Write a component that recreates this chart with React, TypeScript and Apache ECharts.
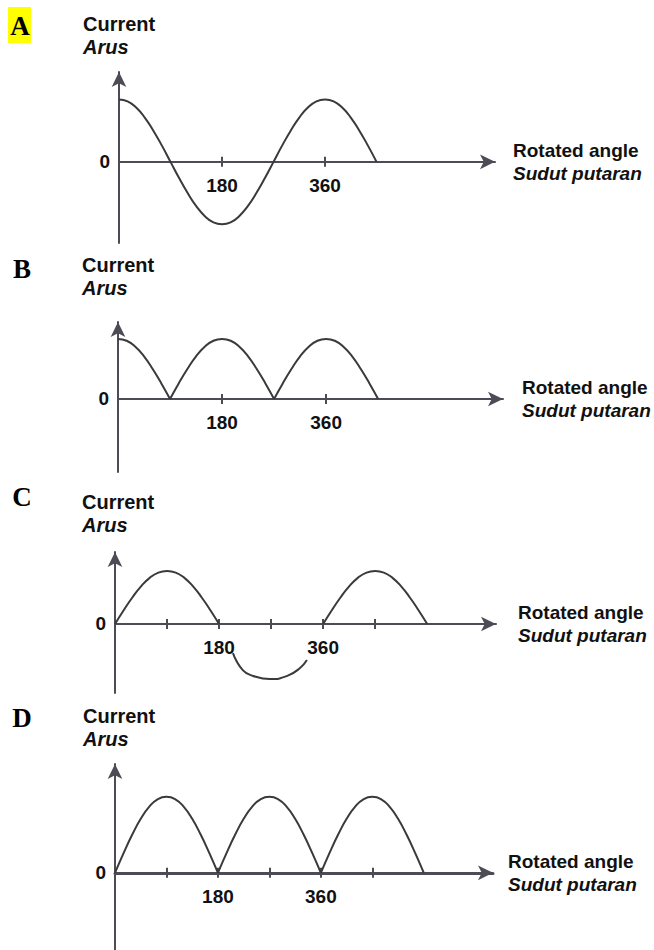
import React, { useEffect, useRef } from "react";
import * as echarts from "echarts";

// ---- texts ----
const panelLetters = ["A", "B", "C", "D"];
const yTitleLines = ["Current", "Arus"];
const xTitleLines = ["Rotated angle", "Sudut putaran"];

// ---- tick values ----
const labelledAngles = [180, 360];
const ticksAB = [180, 360];
const ticksCD = [90, 180, 270, 360, 450];
const zeroLabel = [0];

// ---- A: current vs rotated angle ----
const angleA = [0, 15, 30, 45, 60, 75, 90, 105, 120, 135, 150, 165, 180, 195, 210, 225, 240, 255, 270, 285, 300, 315, 330, 345, 360, 375, 390, 405, 420, 435, 450];
const currentA = [1, 0.97, 0.87, 0.71, 0.5, 0.26, 0, -0.26, -0.5, -0.71, -0.87, -0.97, -1, -0.97, -0.87, -0.71, -0.5, -0.26, 0, 0.26, 0.5, 0.71, 0.87, 0.97, 1, 0.97, 0.87, 0.71, 0.5, 0.26, 0];

// ---- B: three arches ----
const angleB1 = [0, 15, 30, 45, 60, 75, 90];
const currentB1 = [1, 0.97, 0.87, 0.71, 0.5, 0.26, 0];
const angleB2 = [90, 105, 120, 135, 150, 165, 180, 195, 210, 225, 240, 255, 270];
const currentB2 = [0, 0.26, 0.5, 0.71, 0.87, 0.97, 1, 0.97, 0.87, 0.71, 0.5, 0.26, 0];
const angleB3 = [270, 285, 300, 315, 330, 345, 360, 375, 390, 405, 420, 435, 450];
const currentB3 = [0, 0.26, 0.5, 0.71, 0.87, 0.97, 1, 0.97, 0.87, 0.71, 0.5, 0.26, 0];

// ---- C ----
const angleC1 = [0, 15, 30, 45, 60, 75, 90, 105, 120, 135, 150, 165, 180];
const currentC1 = [0, 0.26, 0.5, 0.71, 0.87, 0.97, 1, 0.97, 0.87, 0.71, 0.5, 0.26, 0];
const angleC2 = [204, 221, 239, 268, 298, 320, 332];
const currentC2 = [-0.55, -0.87, -0.98, -1.04, -0.98, -0.83, -0.68];
const angleC3 = [360, 375, 390, 405, 420, 435, 450, 465, 480, 495, 510, 525, 540];
const currentC3 = [0, 0.26, 0.5, 0.71, 0.87, 0.97, 1, 0.97, 0.87, 0.71, 0.5, 0.26, 0];

// ---- D: three arches ----
const angleD1 = [0, 15, 30, 45, 60, 75, 90, 105, 120, 135, 150, 165, 180];
const currentD1 = [0, 0.26, 0.5, 0.71, 0.87, 0.97, 1, 0.97, 0.87, 0.71, 0.5, 0.26, 0];
const angleD2 = [180, 195, 210, 225, 240, 255, 270, 285, 300, 315, 330, 345, 360];
const currentD2 = [0, 0.26, 0.5, 0.71, 0.87, 0.97, 1, 0.97, 0.87, 0.71, 0.5, 0.26, 0];
const angleD3 = [360, 375, 390, 405, 420, 435, 450, 465, 480, 495, 510, 525, 540];
const currentD3 = [0, 0.26, 0.5, 0.71, 0.87, 0.97, 1, 0.97, 0.87, 0.71, 0.5, 0.26, 0];

const pairs = (a: number[], v: number[]) => a.map((x, i) => [x, v[i]]);

const SANS = "'Liberation Sans', Arial, Helvetica, sans-serif";
const SERIF = "'Liberation Serif', 'Times New Roman', serif";
const AXIS = "#4d4b55";
const CURVE = "#3a3a3a";
const TEXT = "#111111";

const panels = [
  { left: 119, top: 72, width: 376, height: 171, xMax: 657, yMin: -1.3, yMax: 1.44, ticks: ticksAB, nameGap: 18, axisW: 2, letterY: 26, titleX: 83, titleY: 24 },
  { left: 118, top: 322, width: 385, height: 150, xMax: 666, yMin: -1.217, yMax: 1.283, ticks: ticksAB, nameGap: 19, axisW: 2, letterY: 269, titleX: 82, titleY: 265 },
  { left: 115, top: 552, width: 381, height: 141, xMax: 659, yMin: -1.302, yMax: 1.358, ticks: ticksCD, nameGap: 22, axisW: 2, letterY: 497, titleX: 82, titleY: 502 },
  { left: 115, top: 764, width: 378, height: 186, xMax: 661, yMin: -1.013, yMax: 1.43, ticks: ticksCD, nameGap: 15, axisW: 3, letterY: 718, titleX: 83, titleY: 716 },
];

const seriesPerPanel: number[][][][] = [
  [pairs(angleA, currentA)],
  [pairs(angleB1, currentB1), pairs(angleB2, currentB2), pairs(angleB3, currentB3)],
  [pairs(angleC1, currentC1), pairs(angleC2, currentC2), pairs(angleC3, currentC3)],
  [pairs(angleD1, currentD1), pairs(angleD2, currentD2), pairs(angleD3, currentD3)],
];

export default function App() {
  const ref = useRef<HTMLDivElement>(null);
  useEffect(() => {
    if (!ref.current) return;
    const chart = echarts.init(ref.current, null, { renderer: "svg" });

    const zeroOffset = (p: any) => -(p.height * (0 - p.yMin)) / (p.yMax - p.yMin);

    const grid = panels.map((p) => ({ left: p.left, top: p.top, width: p.width, height: p.height, containLabel: false }));
    const mainX = panels.map((p, i) => ({
      type: "value",
      gridIndex: i,
      position: "bottom",
      // lift the whole axis (line, ticks, labels, name) up to the zero level
      offset: zeroOffset(p),
      min: 0,
      max: p.xMax,
      axisLine: { show: true, onZero: false, symbol: ["none", "arrow"], symbolSize: [11, 15], lineStyle: { color: AXIS, width: p.axisW } },
      axisTick: { show: true, customValues: p.ticks, length: 5, inside: false, lineStyle: { color: AXIS, width: 2 } },
      axisLabel: { show: true, customValues: labelledAngles, fontSize: 19, fontWeight: "bold", color: TEXT, margin: 14, fontFamily: SANS },
      splitLine: { show: false },
      name: `{a|${xTitleLines[0]}}\n{b|${xTitleLines[1]}}`,
      nameLocation: "end",
      nameGap: p.nameGap,
      nameTextStyle: {
        align: "left",
        verticalAlign: "middle",
        rich: {
          a: { fontSize: 19, fontWeight: "bold", color: TEXT, fontFamily: SANS, lineHeight: 23 },
          b: { fontSize: 19, fontWeight: "bold", fontStyle: "italic", color: TEXT, fontFamily: SANS, lineHeight: 23 },
        },
      },
    }));
    // twin axes that draw the upper half of each tick so the marks cross the axis line
    const tickX = panels.map((p, i) => ({
      type: "value",
      gridIndex: i,
      position: "bottom",
      offset: zeroOffset(p),
      min: 0,
      max: p.xMax,
      axisLine: { show: false, onZero: false },
      axisTick: { show: true, customValues: p.ticks, length: 5, inside: true, lineStyle: { color: AXIS, width: 2 } },
      axisLabel: { show: false },
      splitLine: { show: false },
    }));
    const xAxis = [...mainX, ...tickX];

    const yAxis = panels.map((p, i) => ({
      type: "value",
      gridIndex: i,
      position: "left",
      min: p.yMin,
      max: p.yMax,
      axisLine: { show: true, onZero: false, symbol: ["none", "arrow"], symbolSize: [11, 15], lineStyle: { color: AXIS, width: 2 } },
      axisTick: { show: false },
      axisLabel: { show: true, customValues: zeroLabel, fontSize: 19, fontWeight: "bold", color: TEXT, margin: 9, fontFamily: SANS },
      splitLine: { show: false },
    }));

    const series: any[] = [];
    seriesPerPanel.forEach((list, i) => {
      list.forEach((data) => {
        series.push({
          type: "line",
          xAxisIndex: i,
          yAxisIndex: i,
          data,
          smooth: true,
          showSymbol: false,
          symbol: "none",
          lineStyle: { color: CURVE, width: 2 },
          silent: true,
        });
      });
    });

    const graphic: any[] = [
      { type: "rect", shape: { x: 8, y: 7, width: 23, height: 36 }, style: { fill: "#ffff00" } },
    ];
    panels.forEach((p, i) => {
      graphic.push({
        type: "text",
        x: 20 + (i === 0 ? 0 : 2),
        y: p.letterY,
        style: { text: panelLetters[i], fill: "#000", fontSize: 27, fontWeight: "bold", fontFamily: SERIF, align: "center", verticalAlign: "middle", textAlign: "center", textVerticalAlign: "middle" },
      });
      graphic.push({
        type: "text",
        x: p.titleX,
        y: p.titleY,
        style: { text: yTitleLines[0], fill: TEXT, fontSize: 20, fontWeight: "bold", fontFamily: SANS, align: "left", verticalAlign: "middle", textAlign: "left", textVerticalAlign: "middle" },
      });
      graphic.push({
        type: "text",
        x: p.titleX,
        y: p.titleY + 23,
        style: { text: yTitleLines[1], fill: TEXT, fontSize: 20, fontWeight: "bold", fontStyle: "italic", fontFamily: SANS, align: "left", verticalAlign: "middle", textAlign: "left", textVerticalAlign: "middle" },
      });
    });

    chart.setOption({
      animation: false,
      backgroundColor: "#ffffff",
      grid,
      xAxis,
      yAxis,
      series,
      graphic,
    });
    return () => chart.dispose();
  }, []);

  return <div ref={ref} style={{ position: "absolute", left: 0, top: 0, width: 654, height: 950 }} />;
}
